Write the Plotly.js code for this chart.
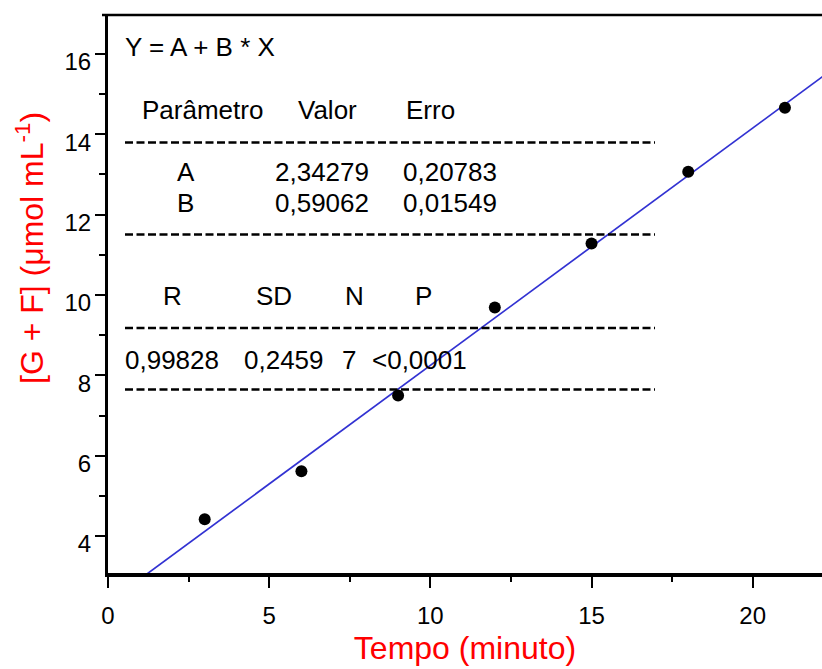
<!DOCTYPE html>
<html>
<head>
<meta charset="utf-8">
<script src="https://cdn.plot.ly/plotly-3.0.1.min.js"></script>
<style>
  html, body { margin: 0; padding: 0; background: #ffffff; }
  #chart { width: 822px; height: 669px; }
</style>
</head>
<body>
<div id="chart"></div>
<script>
// Measured concentration over time
const tempo = [3, 6, 9, 12, 15, 18, 21];
const concentracao = [4.42, 5.61, 7.50, 9.69, 11.28, 13.07, 14.66];

// Linear fit parameters Y = A + B * X
const paramA = 2.34279;
const paramB = 0.59062;
const fitSpan = [0, 23];

// Fit report text
const headerRow = ['Parâmetro', 'Valor', 'Erro'];
const paramRows = [
  ['A', '2,34279', '0,20783'],
  ['B', '0,59062', '0,01549']
];
const statsHeader = ['R', 'SD', 'N', 'P'];
const statsValues = ['0,99828', '0,2459', '7', '<0,0001'];

const xTickVals = [0, 5, 10, 15, 20];
const yTickVals = [4, 6, 8, 10, 12, 14, 16];

// Page geometry (pixels)
const W = 822, H = 669;
const M = { l: 108, r: 0, t: 15, b: 96 };
const px = x => (x - M.l) / (W - M.l - M.r);
const py = y => (H - M.b - y) / (H - M.t - M.b);

const FONT = 'Liberation Sans, Arial, Helvetica, sans-serif';
const textFont = { family: FONT, size: 26, color: '#000000' };

const fitY = fitSpan.map(x => paramA + paramB * x);

const traces = [
  {
    x: fitSpan, y: fitY, mode: 'lines', type: 'scatter',
    line: { color: '#3232d2', width: 1.7 }, hoverinfo: 'skip'
  },
  {
    x: tempo, y: concentracao, mode: 'markers', type: 'scatter',
    marker: { color: '#000000', size: 12, symbol: 'circle' }, cliponaxis: false
  }
];

const annotations = [];
function label(text, left, cy, font) {
  annotations.push({
    text: text, xref: 'paper', yref: 'paper',
    x: px(left), y: py(cy), xanchor: 'left', yanchor: 'middle',
    showarrow: false, font: font || textFont, borderpad: 0
  });
}

label('Y = A + B * X', 124, 47);
// table header
[[headerRow[0], 141], [headerRow[1], 297], [headerRow[2], 405]]
  .forEach(([t, x]) => label(t, x, 110));
// parameter rows
paramRows.forEach((row, i) => {
  const cy = 172 + i * 30.5;
  label(row[0], 176, cy);
  label(row[1], 274, cy);
  label(row[2], 402, cy);
});
// statistics
const statsHeaderX = [162, 255, 344, 414];
statsHeader.forEach((t, i) => label(t, statsHeaderX[i], 296));
const statsValX = [124, 243, 341, 371];
statsValues.forEach((t, i) => label(t, statsValX[i], 360));

// y-axis title
annotations.push({
  text: '[G + F] (μmol mL<sup>-1</sup>)', xref: 'paper', yref: 'paper',
  x: px(30), y: py(248), xanchor: 'center', yanchor: 'middle',
  textangle: -90, showarrow: false,
  font: { family: FONT, size: 32, color: '#ff0000' }
});

// dashed separator rules of the report
const shapes = [142.5, 234.5, 328, 389.5].map(y => ({
  type: 'line', xref: 'paper', yref: 'paper',
  x0: px(125), x1: px(655), y0: py(y), y1: py(y),
  line: { color: '#000000', width: 2.4, dash: '8px,3.5px' }
}));
// frame top line
shapes.push({
  type: 'line', xref: 'paper', yref: 'paper',
  x0: px(102), x1: 1, y0: 1, y1: 1,
  line: { color: '#000000', width: 2.5 }
});

const layout = {
  width: W, height: H,
  margin: M,
  paper_bgcolor: '#ffffff', plot_bgcolor: '#ffffff',
  showlegend: false,
  font: { family: FONT, color: '#000000' },
  xaxis: {
    range: [0, 22.15],
    tickvals: xTickVals, ticktext: xTickVals.map(String),
    ticks: 'outside', ticklen: 11, tickwidth: 2, tickcolor: '#000000',
    minor: { tickvals: [2.5, 7.5, 12.5, 17.5], ticks: 'outside', ticklen: 5, tickwidth: 2, tickcolor: '#000000' },
    showline: true, linecolor: '#000000', linewidth: 4,
    showgrid: false, zeroline: false,
    tickfont: { family: FONT, size: 24, color: '#000000' },
    ticklabelstandoff: 7,
    title: { text: 'Tempo (minuto)', font: { family: FONT, size: 32, color: '#ff0000' }, standoff: 10 }
  },
  yaxis: {
    range: [3.08, 16.97],
    tickvals: yTickVals, ticktext: yTickVals.map(String),
    ticks: 'outside', ticklen: 10, tickwidth: 2, tickcolor: '#000000',
    minor: { tickvals: [5, 7, 9, 11, 13, 15], ticks: 'outside', ticklen: 6, tickwidth: 2, tickcolor: '#000000' },
    showline: true, linecolor: '#000000', linewidth: 3,
    showgrid: false, zeroline: false,
    tickfont: { family: FONT, size: 24, color: '#000000' },
    ticklabelstandoff: -1,
    ticklabelshift: 8
  },
  annotations: annotations,
  shapes: shapes
};

Plotly.newPlot('chart', traces, layout, { displayModeBar: false, staticPlot: true });
</script>
</body>
</html>
